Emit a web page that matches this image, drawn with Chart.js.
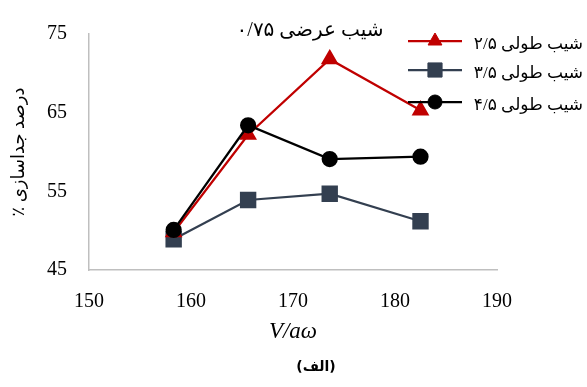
<!DOCTYPE html>
<html>
<head>
<meta charset="utf-8">
<script src="https://cdn.jsdelivr.net/npm/chart.js@4"></script>
<style>
  html, body { margin: 0; padding: 0; background: #fff; }
  #wrap { width: 587px; height: 387px; }
</style>
</head>
<body>
<div id="wrap"><canvas id="chart" width="587" height="387"></canvas></div>
<script>
// chart values
const xValues = [158.3, 165.6, 173.6, 182.5];
const slope25 = [49.8, 62.2, 71.8, 65.3];
const slope35 = [48.9, 53.9, 54.7, 51.2];
const slope45 = [50.1, 63.4, 59.1, 59.4];
const seriesLabels = ["شیب طولی ۲/۵", "شیب طولی ۳/۵", "شیب طولی ۴/۵"];
const xTicks = [150, 160, 170, 180, 190];
const yTicks = [45, 55, 65, 75];
const chartTitle = "شیب عرضی ۰/۷۵";
const caption = "(الف)";

const toPoints = (ys) => ys.map((y, i) => ({ x: xValues[i], y: y }));
const serif = "'Liberation Serif', 'Times New Roman', 'DejaVu Sans', serif";

// legend, top title and caption drawn on top of everything
const overlayPlugin = {
  id: "overlay",
  afterDraw(chart) {
    const ctx = chart.ctx;
    ctx.save();
    ctx.direction = "rtl";
    ctx.fillStyle = "#000";

    // title inside the plot
    ctx.font = "20px " + serif;
    ctx.textAlign = "center";
    ctx.textBaseline = "middle";
    ctx.fillText(chartTitle, 310, 31);

    // legend
    const rows = [41, 70, 102];
    chart.data.datasets.forEach((ds) => {
      const y = rows[ds.legendRow];
      ctx.strokeStyle = ds.borderColor;
      ctx.lineWidth = ds.borderWidth;
      ctx.beginPath();
      ctx.moveTo(408, y);
      ctx.lineTo(462, y);
      ctx.stroke();
      ctx.fillStyle = ds.pointBackgroundColor;
      ctx.strokeStyle = ds.pointBorderColor;
      ctx.lineWidth = 1;
      Chart.helpers.drawPoint(ctx, {
        pointStyle: ds.pointStyle,
        radius: ds.pointRadius,
        borderWidth: 1
      }, 435, y);
      ctx.fillStyle = "#000";
      ctx.font = "17px " + serif;
      ctx.textAlign = "right";
      ctx.textBaseline = "middle";
      ctx.fillText(ds.label, 583, y + 4);
    });

    // caption
    ctx.font = "bold 14px 'DejaVu Sans', sans-serif";
    ctx.textAlign = "center";
    ctx.fillText(caption, 316, 367);
    ctx.restore();
  }
};

new Chart(document.getElementById("chart"), {
  type: "line",
  data: {
    datasets: [
      {
        label: seriesLabels[0],
        data: toPoints(slope25),
        borderColor: "#C00000",
        backgroundColor: "#C00000",
        pointBackgroundColor: "#C00000",
        pointBorderColor: "#C00000",
        pointStyle: "triangle",
        pointRadius: 8,
        borderWidth: 2.25,
        legendRow: 0,
        order: 1
      },
      {
        label: seriesLabels[1],
        data: toPoints(slope35),
        borderColor: "#333F50",
        backgroundColor: "#333F50",
        pointBackgroundColor: "#333F50",
        pointBorderColor: "#333F50",
        pointStyle: "rect",
        pointRadius: 10,
        borderWidth: 2.25,
        legendRow: 1,
        order: 2
      },
      {
        label: seriesLabels[2],
        data: toPoints(slope45),
        borderColor: "#000000",
        backgroundColor: "#000000",
        pointBackgroundColor: "#000000",
        pointBorderColor: "#000000",
        pointStyle: "circle",
        pointRadius: 7,
        borderWidth: 2.25,
        legendRow: 2,
        order: 0
      }
    ]
  },
  options: {
    responsive: false,
    animation: false,
    layout: { padding: { left: 0, right: 90, top: 22, bottom: 0 } },
    plugins: {
      legend: { display: false },
      tooltip: { enabled: false }
    },
    elements: { line: { tension: 0 } },
    scales: {
      x: {
        type: "linear",
        min: 150,
        max: 190,
        afterBuildTicks: (axis) => { axis.ticks = xTicks.map(v => ({ value: v })); },
        afterFit: (axis) => { axis.height = 117; },
        grid: { display: false, drawTicks: false },
        border: { color: "#BFBFBF", width: 1.5 },
        ticks: { color: "#000", padding: 20, font: { family: serif, size: 20 } },
        title: {
          display: true,
          text: "V/aω",
          color: "#000",
          padding: { top: 0, bottom: 41 },
          font: { family: serif, size: 23, style: "italic" }
        }
      },
      y: {
        min: 45,
        max: 75,
        afterBuildTicks: (axis) => { axis.ticks = yTicks.map(v => ({ value: v })); },
        afterFit: (axis) => { axis.width = 89; },
        grid: { display: false, drawTicks: false },
        border: { color: "#BFBFBF", width: 1.5 },
        ticks: { color: "#000", padding: 22, font: { family: serif, size: 20 } },
        title: {
          display: true,
          text: "درصد جداسازی ٪\u200F",
          color: "#000",
          padding: { top: 8, bottom: 0 },
          font: { family: serif, size: 18 }
        }
      }
    }
  },
  plugins: [overlayPlugin]
});
</script>
</body>
</html>
